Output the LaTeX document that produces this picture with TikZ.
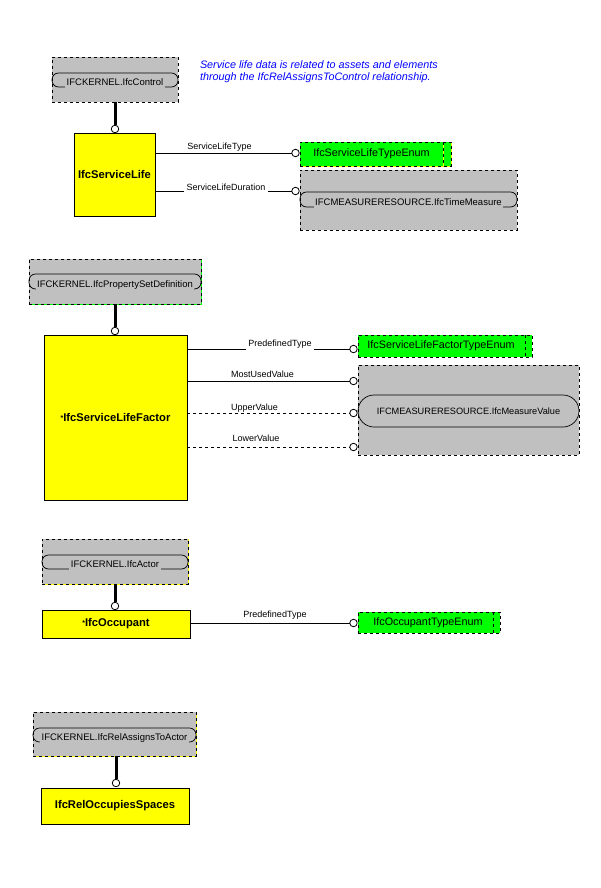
\documentclass[tikz,border=0pt]{standalone}
\usepackage{fontspec}
\setmainfont{Liberation Sans}
\definecolor{entyellow}{RGB}{255,255,0}
\definecolor{enumgreen}{RGB}{0,255,0}
\definecolor{refgray}{RGB}{192,192,192}
\definecolor{noteblue}{RGB}{0,0,255}

% box from its corners: \boxat[style]{name}{x1}{y1}{x2}{y2}{text}
\newcommand\boxat[7][]{%
  \node[#1, minimum width={#5-#3}, minimum height={#6-#4}] (#2)
    at ({(#3+#5)/2},{(#4+#6)/2}) {#7};}
% small raised star in front of abstract entity names
\newcommand\absmark{{\fontsize{7}{7}\selectfont\raisebox{1.2pt}{*}}}

\begin{document}
\begin{tikzpicture}[x=1pt,y=-1pt,
  every node/.style={inner sep=0pt, outer sep=0pt},
  dashedge/.style={draw=black, line width=0.9pt, dash pattern=on 3pt off 3pt},
  under/.style={preaction={draw=#1, solid, line width=0.9pt}},
  refbox/.style={rectangle, fill=refgray, dashedge},
  enumbox/.style={rectangle, fill=enumgreen, dashedge},
  entity/.style={rectangle, fill=entyellow, draw=black, line width=0.8pt,
    font=\bfseries\fontsize{11.2}{13}\selectfont},
  capsule/.style={rectangle, draw=black, line width=0.7pt, rounded corners=6.5pt},
  captext/.style={fill=refgray, inner xsep=1.5pt, inner ysep=2pt,
    font=\fontsize{9.5}{11}\selectfont},
  plaintext/.style={font=\fontsize{9.2}{11}\selectfont},
  enumtext/.style={font=\fontsize{10.8}{12}\selectfont},
  attrlbl/.style={font=\fontsize{9}{11}\selectfont},
  gaplbl/.style={attrlbl, fill=white, inner xsep=2.5pt, inner ysep=3pt},
  ring/.style={circle, draw=black, fill=white, line width=0.8pt, minimum size=7.5pt},
  supertype/.style={line width=3pt},
  attr/.style={line width=0.8pt},
  optattr/.style={line width=0.8pt, dash pattern=on 3pt off 3pt},
  note/.style={text=noteblue, font=\itshape\fontsize{10.8}{12}\selectfont}
]
\useasboundingbox[fill=white] (0,0) rectangle (600,888);

% ---------- IfcServiceLife ----------
\node[note, anchor=base west] (note1) at (200,68.5)
  {Service life data is related to assets and elements};
\node[note, anchor=base west] (note2) at (200,80.5)
  {through the IfcRelAssignsToControl relationship.};

\boxat[refbox]{ctrl}{52}{57}{178}{102}{}
\boxat[capsule]{ctrlcap}{52}{73}{178}{87}{}
\node[captext, anchor=base] (ctrltxt) at ([yshift=1.2pt]ctrlcap.south) {IFCKERNEL.IfcControl};

\boxat[entity]{sl}{74}{133}{155}{216}{IfcServiceLife}
\node[ring] (c0) at (115,129) {};
\draw[supertype] (c0 |- ctrl.south) -- (c0.north);

\boxat[enumbox, under=entyellow]{slte}{300}{142}{451}{166}{}
\draw[dashedge, under=entyellow] (443,142) -- (443,166);
\node[enumtext] (sltetxt) at (371.5,154) {IfcServiceLifeTypeEnum};
\node[ring] (c1) at (295.5,153) {};
\draw[attr] (sl.east |- c1) -- (c1.west);
\node[attrlbl, anchor=base] (l1) at (219.5,149.5) {ServiceLifeType};

\boxat[refbox]{tm}{300}{170}{517}{230}{}
\boxat[capsule]{tmcap}{300}{192}{517}{207}{}
\node[captext, anchor=base] (tmtxt) at ([yshift=1.2pt]tmcap.south) {IFCMEASURERESOURCE.IfcTimeMeasure};
\node[ring] (c2) at (295.5,191) {};
\draw[attr] (sl.east |- c2) -- (c2.west);
\node[gaplbl, anchor=base] (l2) at (226,190) {ServiceLifeDuration};

% ---------- IfcServiceLifeFactor ----------
\boxat[refbox, under=enumgreen]{psd}{29}{259}{201}{304}{}
\boxat[capsule]{psdcap}{29}{274}{201}{289}{}
\node[captext, anchor=base] (psdtxt) at ([yshift=1.2pt]psdcap.south) {IFCKERNEL.IfcPropertySetDefinition};

\boxat[entity]{slf}{44}{335}{187}{500}{\absmark IfcServiceLifeFactor}
\node[ring] (c3) at (115,331) {};
\draw[supertype] (c3 |- psd.south) -- (c3.north);

\boxat[enumbox]{slfte}{358}{335}{532}{357}{}
\draw[dashedge] (525,335) -- (525,357);
\node[enumtext] (slftetxt) at (441,346) {IfcServiceLifeFactorTypeEnum};

\boxat[refbox]{mv}{358}{365}{579}{455}{}
\boxat[capsule, rounded corners=16pt]{mvcap}{358}{395}{579}{427}{}
\node[plaintext] (mvtxt) at (mvcap.center) {IFCMEASURERESOURCE.IfcMeasureValue};

\node[ring] (c4) at (353.5,349) {};
\node[ring] (c5) at (353.5,381) {};
\node[ring] (c6) at (353.5,413) {};
\node[ring] (c7) at (353.5,447) {};
\draw[attr] (slf.east |- c4) -- (c4.west);
\draw[attr] (slf.east |- c5) -- (c5.west);
\draw[optattr] (slf.east |- c6) -- (c6.west);
\draw[optattr] (slf.east |- c7) -- (c7.west);
\node[gaplbl, anchor=base] (l4) at (280,346.5) {PredefinedType};
\node[attrlbl, anchor=base] (l5) at (262.5,377.5) {MostUsedValue};
\node[attrlbl, anchor=base] (l6) at (254.5,410.5) {UpperValue};
\node[attrlbl, anchor=base] (l7) at (256,441.5) {LowerValue};

% ---------- IfcOccupant ----------
\boxat[refbox, under=entyellow]{act}{42}{539}{188}{584}{}
\boxat[capsule]{actcap}{42}{555}{188}{569}{}
\node[captext, anchor=base] (acttxt) at ([yshift=1.2pt]actcap.south) {IFCKERNEL.IfcActor};

\boxat[entity]{occ}{42}{610}{190}{638}{\absmark IfcOccupant}
\node[ring] (c8) at (115,606) {};
\draw[supertype] (c8 |- act.south) -- (c8.north);

\boxat[enumbox]{octe}{358}{612}{500}{633}{}
\draw[dashedge] (493,612) -- (493,633);
\node[enumtext] (octetxt) at (428,622.5) {IfcOccupantTypeEnum};
\node[ring] (c9) at (353.5,623) {};
\draw[attr] (occ.east |- c9) -- (c9.west);
\node[attrlbl, anchor=base] (l9) at (275,617.5) {PredefinedType};

% ---------- IfcRelOccupiesSpaces ----------
\boxat[refbox, under=entyellow]{rata}{33}{712}{196}{756}{}
\boxat[capsule]{ratacap}{33}{728}{196}{742}{}
\node[captext, anchor=base] (ratatxt) at ([yshift=1.2pt]ratacap.south) {IFCKERNEL.IfcRelAssignsToActor};

\boxat[entity]{ros}{41}{788}{189}{824}{IfcRelOccupiesSpaces}
\node[ring] (c10) at (116,783) {};
\draw[supertype] (c10 |- rata.south) -- (c10.north);
\end{tikzpicture}
\end{document}
